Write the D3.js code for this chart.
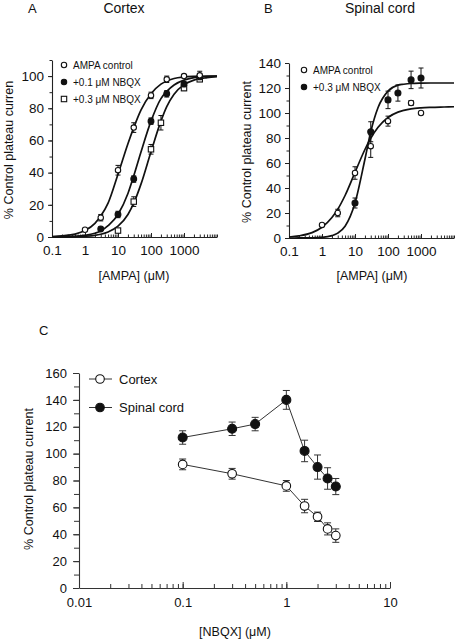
<!DOCTYPE html>
<html><head><meta charset="utf-8">
<script src="https://cdn.jsdelivr.net/npm/d3@7"></script>
<style>
body{margin:0;background:#fff}
svg{display:block}
text{font-family:"Liberation Sans",Arial,Helvetica,sans-serif;fill:#111}
</style>
</head><body>
<svg id="chart" width="455" height="640"></svg>
<script>
// ---------------- DATA ----------------
const ampaTickValues = [0.1, 1, 10, 100, 1000];
const ampaTickLabels = ["0.1", "1", "10", "100", "1000"];
const yTicksA = [0, 20, 40, 60, 80, 100];
const yTicksB = [0, 20, 40, 60, 80, 100, 120, 140];
const nbqxTickValues = [0.01, 0.1, 1, 10];
const nbqxTickLabels = ["0.01", "0.1", "1", "10"];
const yTicksC = [0, 20, 40, 60, 80, 100, 120, 140, 160];

// Panel A – Cortex
const cortexCtrlX = [1, 3, 10, 30, 100, 300, 1000, 3000];
const cortexCtrlY = [4.5, 12, 41.5, 68, 88, 98, 100, 100.5];
const cortexCtrlErr = [0, 2, 3, 3, 2, 2, 1, 2.5];
const cortexN01X = [3, 10, 30, 100, 300, 1000, 3000];
const cortexN01Y = [5, 14, 36, 72, 89, 95, 99.5];
const cortexN01Err = [0, 2, 2, 2, 2, 1.5, 1];
const cortexN03X = [10, 30, 100, 200, 1000, 3000];
const cortexN03Y = [4, 22, 54.5, 71, 92.5, 98];
const cortexN03Err = [0, 3, 3, 4.5, 1.5, 1];

// fitted curves
const fitX = [0.1, 0.2, 0.5, 1, 2, 3, 5, 10, 20, 30, 50, 100, 200, 300, 500, 1000, 2000, 5000, 10000];
const fitCortexCtrl = [0.3, 0.7, 1.8, 4, 8.5, 13, 21, 39, 58, 68, 79, 89, 95, 97, 98.5, 99.4, 99.8, 100, 100];
const fitCortexN01 = [0.1, 0.15, 0.4, 1, 2.3, 3.7, 7, 14, 27, 38, 53, 72, 86, 90.5, 94.5, 97.5, 99, 99.7, 100];
const fitCortexN03 = [0.03, 0.07, 0.2, 0.45, 1, 1.7, 3.1, 6.7, 14, 21, 33, 53, 72, 81, 88.7, 94.7, 97.5, 99, 99.6];

// Panel B – Spinal cord
const spinalCtrlX = [1, 3, 10, 30, 100, 500, 1000];
const spinalCtrlY = [10.5, 20, 52, 73.5, 93.5, 108, 100];
const spinalCtrlErr = [0, 3, 5, 9, 4, 2, 0];
const spinalN03X = [10, 30, 100, 200, 500, 1000];
const spinalN03Y = [28, 85, 110.5, 116, 126.5, 128];
const spinalN03Err = [4, 8, 7, 6.5, 7, 8];
const fitSpinalCtrl = [0.8, 1.7, 4.3, 8.6, 16.4, 23, 34, 52.5, 70.8, 79.8, 88.6, 96.4, 100.7, 102.1, 103.3, 104.1, 104.5, 104.8, 105];
const fitSpinalN03 = [0, 0.03, 0.15, 0.5, 1.9, 3.9, 9.4, 28, 63, 85, 104.4, 117.5, 122.3, 123, 123.6, 123.9, 124, 124, 124];

// Panel C – NBQX concentration
const nbqxX = [0.1, 0.3, 0.5, 1, 1.5, 2, 2.5, 3];
const cortexNbqxX = [0.1, 0.3, 1, 1.5, 2, 2.5, 3];
const cortexNbqxY = [92, 85, 76, 61, 53, 44, 39];
const cortexNbqxErr = [4, 4, 4, 5, 3.5, 4.5, 5];
const spinalNbqxY = [112, 118.5, 122, 140, 102, 90, 81.5, 75.5];
const spinalNbqxErr = [5, 5, 5, 7, 8, 9, 8, 6];

// ---------------- DRAWING ----------------
const svg = d3.select("#chart");
svg.append("rect").attr("width", 455).attr("height", 640).attr("fill", "#fff");

const zip = (xs, ys, es) => xs.map((x, i) => ({x, y: ys[i], e: es ? es[i] : 0}));

function logAxes(g, x, y, yTicks, yMinorStep, opts) {
  const [y0, y1] = y.domain();
  g.append("g").attr("transform", `translate(0,${y(0)})`)
    .call(d3.axisBottom(x).tickValues(x.ticks()).tickSizeInner(-opts.xMinor).tickSizeOuter(0).tickFormat(""))
    .call(a => a.select(".domain").remove())
    .selectAll("line").attr("stroke", opts.axisColor);
  const xa = g.append("g").attr("transform", `translate(0,${y(0)})`)
    .call(d3.axisBottom(x).tickValues(opts.xTickValues).tickSizeInner(-opts.xMajor).tickSizeOuter(0)
      .tickPadding(opts.xPad).tickFormat((d, i) => opts.xTickLabels[i]));
  xa.select(".domain").attr("stroke", opts.axisColor).attr("stroke-width", 1.1);
  xa.selectAll("line").attr("stroke", opts.axisColor);
  xa.selectAll("text").attr("font-size", opts.tickFont).attr("fill", "#111");
  g.append("g").attr("transform", `translate(${x.range()[0]},0)`)
    .call(d3.axisLeft(y).tickValues(d3.range(y0, y1 + 0.01, yMinorStep)).tickSizeInner(opts.yMinor).tickSizeOuter(0).tickFormat(""))
    .call(a => a.select(".domain").remove())
    .selectAll("line").attr("stroke", opts.axisColor);
  const ya = g.append("g").attr("transform", `translate(${x.range()[0]},0)`)
    .call(d3.axisLeft(y).tickValues(yTicks).tickSizeInner(opts.yMajor).tickSizeOuter(0).tickPadding(opts.yPad));
  ya.select(".domain").attr("stroke", opts.axisColor).attr("stroke-width", 1.1);
  ya.selectAll("line").attr("stroke", opts.axisColor);
  ya.selectAll("text").attr("font-size", opts.tickFont).attr("fill", "#111");
}

function errorBars(g, x, y, pts, cap, color, sw) {
  const eb = g.append("g").attr("stroke", color).attr("stroke-width", sw);
  pts.filter(p => p.e > 0).forEach(p => {
    const cx = x(p.x), t = y(p.y + p.e), b = y(p.y - p.e);
    eb.append("line").attr("x1", cx).attr("x2", cx).attr("y1", t).attr("y2", b);
    eb.append("line").attr("x1", cx - cap).attr("x2", cx + cap).attr("y1", t).attr("y2", t);
    eb.append("line").attr("x1", cx - cap).attr("x2", cx + cap).attr("y1", b).attr("y2", b);
  });
}

function marker1(g, cx, cy, kind, r) {
  if (kind === "square") {
    g.append("rect").attr("x", cx - r).attr("y", cy - r).attr("width", 2 * r).attr("height", 2 * r)
      .attr("fill", "#fff").attr("stroke", "#111").attr("stroke-width", 1.1);
  } else {
    g.append("circle").attr("cx", cx).attr("cy", cy).attr("r", r)
      .attr("fill", kind === "filled" ? "#111" : "#fff").attr("stroke", "#111").attr("stroke-width", 1.1);
  }
}
function markers(g, x, y, pts, kind, r) {
  pts.forEach(p => marker1(g, x(p.x), y(p.y), kind, r));
}

function vlabel(text, x, y, size) {
  svg.append("text").attr("transform", `translate(${x},${y}) rotate(-90)`)
    .attr("text-anchor", "middle").attr("font-size", size).text(text);
}
function label(text, x, y, size, anchor) {
  svg.append("text").attr("x", x).attr("y", y).attr("text-anchor", anchor || "middle")
    .attr("font-size", size).text(text);
}

const abOpts = {xTickValues: ampaTickValues, xTickLabels: ampaTickLabels, xMinor: 2.5, xMajor: 4, xPad: 8,
  yMinor: 2.5, yMajor: 4, yPad: 4, tickFont: 13.5, axisColor: "#222"};

// ---- Panel A ----
{
  const x = d3.scaleLog().domain([0.1, 10000]).range([52, 217]);
  const y = d3.scaleLinear().domain([0, 110]).range([237, 60]);
  const g = svg.append("g");
  logAxes(g, x, y, yTicksA, 10, abOpts);
  const line = d3.line().x(d => x(d.x)).y(d => y(d.y)).curve(d3.curveMonotoneX);
  [fitCortexCtrl, fitCortexN01, fitCortexN03].forEach(f => {
    g.append("path").datum(zip(fitX, f)).attr("d", line).attr("fill", "none")
      .attr("stroke", "#111").attr("stroke-width", 1.7);
  });
  const s1 = zip(cortexCtrlX, cortexCtrlY, cortexCtrlErr);
  const s2 = zip(cortexN01X, cortexN01Y, cortexN01Err);
  const s3 = zip(cortexN03X, cortexN03Y, cortexN03Err);
  [s1, s2, s3].forEach(s => errorBars(g, x, y, s, 2.5, "#111", 1));
  markers(g, x, y, s3, "square", 2.7);
  markers(g, x, y, s2, "filled", 2.9);
  markers(g, x, y, s1, "open", 2.7);
  const lg = svg.append("g");
  const items = [["open", "AMPA control"], ["filled", "+0.1 \u03BCM NBQX"], ["square", "+0.3 \u03BCM NBQX"]];
  items.forEach((it, i) => {
    const cy = 65 + i * 17;
    marker1(lg, 64, cy, it[0], 2.7);
    lg.append("text").attr("x", 73).attr("y", cy + 3.5).attr("font-size", 10).text(it[1]);
  });
  vlabel("% Control plateau curren", 13, 150, 12.5);
  label("[AMPA] (\u03BCM)", 134, 280, 12.5);
  label("A", 28, 13, 13, "start");
  label("Cortex", 124, 13, 14);
}

// ---- Panel B ----
{
  const x = d3.scaleLog().domain([0.1, 10000]).range([289, 454]);
  const y = d3.scaleLinear().domain([0, 140]).range([238, 63]);
  const g = svg.append("g");
  logAxes(g, x, y, yTicksB, 10, abOpts);
  const line = d3.line().x(d => x(d.x)).y(d => y(d.y)).curve(d3.curveMonotoneX);
  [fitSpinalCtrl, fitSpinalN03].forEach(f => {
    g.append("path").datum(zip(fitX, f)).attr("d", line).attr("fill", "none")
      .attr("stroke", "#111").attr("stroke-width", 1.7);
  });
  const s1 = zip(spinalCtrlX, spinalCtrlY, spinalCtrlErr);
  const s2 = zip(spinalN03X, spinalN03Y, spinalN03Err);
  [s1, s2].forEach(s => errorBars(g, x, y, s, 2.5, "#111", 1));
  markers(g, x, y, s1, "open", 2.7);
  markers(g, x, y, s2, "filled", 3);
  const lg = svg.append("g");
  [["open", "AMPA control"], ["filled", "+0.3 \u03BCM NBQX"]].forEach((it, i) => {
    const cy = 70 + i * 17;
    marker1(lg, 304, cy, it[0], 2.7);
    lg.append("text").attr("x", 313).attr("y", cy + 3.5).attr("font-size", 10).text(it[1]);
  });
  vlabel("% Control plateau current", 251, 152, 12.5);
  label("[AMPA] (\u03BCM)", 372, 280, 12.5);
  label("B", 264, 13, 13, "start");
  label("Spinal cord", 380, 13, 14);
}

// ---- Panel C ----
{
  const x = d3.scaleLog().domain([0.01, 10]).range([79, 390]);
  const y = d3.scaleLinear().domain([0, 160]).range([588, 373]);
  const g = svg.append("g");
  logAxes(g, x, y, yTicksC, 10, {xTickValues: nbqxTickValues, xTickLabels: nbqxTickLabels,
    xMinor: 4, xMajor: 6, xPad: 10, yMinor: 5, yMajor: 6, yPad: 6, tickFont: 13, axisColor: "#333"});
  const line = d3.line().x(d => x(d.x)).y(d => y(d.y));
  const sp = zip(nbqxX, spinalNbqxY, spinalNbqxErr);
  const cx = zip(cortexNbqxX, cortexNbqxY, cortexNbqxErr);
  [sp, cx].forEach(s => g.append("path").datum(s).attr("d", line).attr("fill", "none")
    .attr("stroke", "#333").attr("stroke-width", 1));
  [sp, cx].forEach(s => errorBars(g, x, y, s, 3.5, "#333", 1));
  markers(g, x, y, cx, "open", 4.3);
  markers(g, x, y, sp, "filled", 4.5);
  const lg = svg.append("g");
  [["open", "Cortex"], ["filled", "Spinal cord"]].forEach((it, i) => {
    const cy = 379 + i * 28.5;
    lg.append("line").attr("x1", 89).attr("x2", 112).attr("y1", cy).attr("y2", cy).attr("stroke", "#333");
    marker1(lg, 100, cy, it[0], 4.3);
    lg.append("text").attr("x", 119).attr("y", cy + 4.5).attr("font-size", 13).text(it[1]);
  });
  vlabel("% Control plateau current", 33, 479, 12.5);
  label("[NBQX] (\u03BCM)", 235, 636, 12.5);
  label("C", 39, 335, 13, "start");
}
</script>
</body></html>
